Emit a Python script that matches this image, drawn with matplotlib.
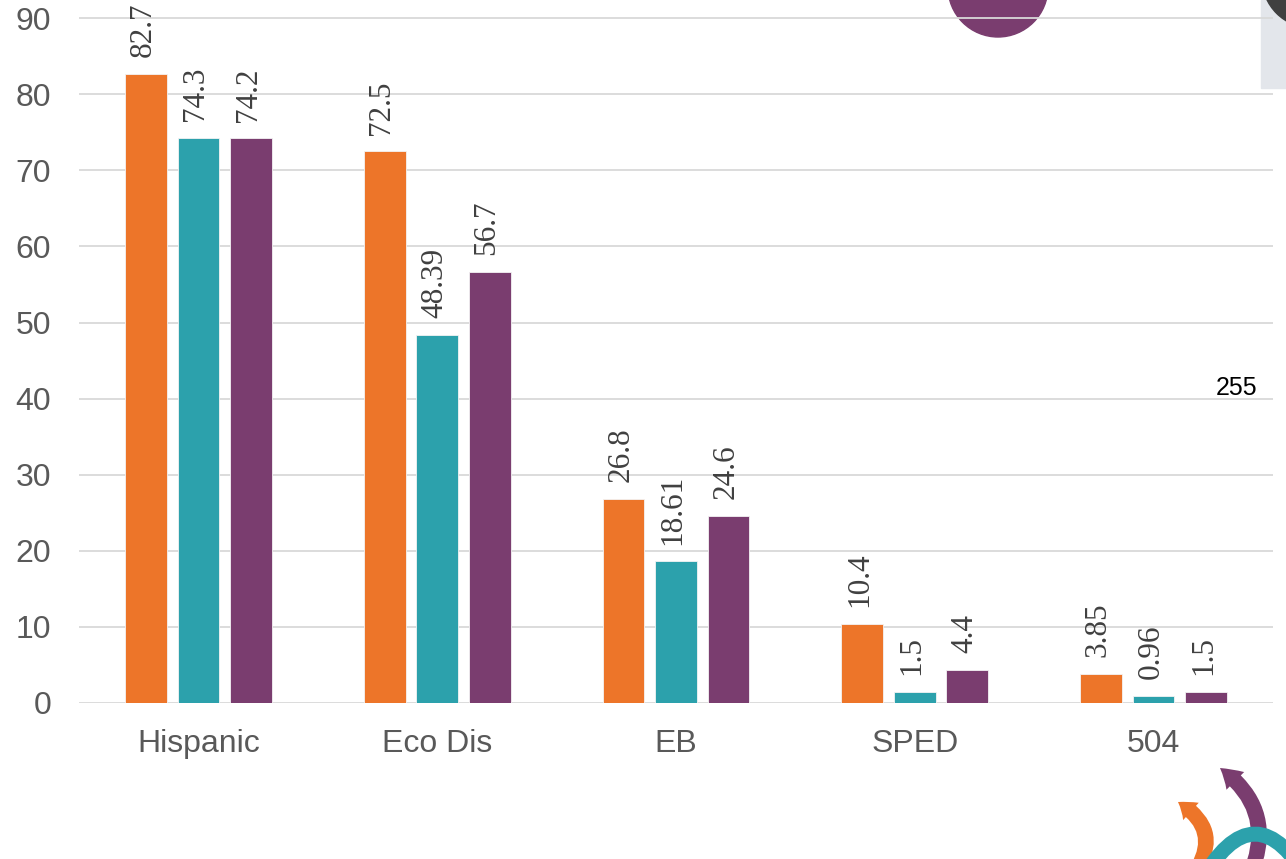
import matplotlib.pyplot as plt
import numpy as np
from matplotlib.patches import Ellipse, Rectangle, FancyArrowPatch

categories = ["Hispanic", "Eco Dis", "EB", "SPED", "504"]
series_a = [82.7, 72.5, 26.8, 10.4, 3.85]
series_b = [74.3, 48.39, 18.61, 1.5, 0.96]
series_c = [74.2, 56.7, 24.6, 4.4, 1.5]
colors = ["#ED7529", "#2CA1AC", "#7A3D6F"]
yticks = list(range(0, 100, 10))

W, H = 1286, 859


def fpos(x, y):
    # pixel position (top-left origin) -> figure fraction
    return (x / W, 1 - y / H)


fig = plt.figure(figsize=(W / 100, H / 100), dpi=100)
ax = fig.add_axes([79 / W, 1 - 703 / H, (1273 - 79) / W, 703 / H])
ax.set_facecolor("none")

x = np.arange(len(categories))
offsets = [-0.22, 0.0, 0.22]
width = 0.175

for vals, off, col in zip([series_a, series_b, series_c], offsets, colors):
    bars = ax.bar(x + off, vals, width, color=col, edgecolor="#F3F3F3",
                  linewidth=0.6, zorder=2)
    for b, v in zip(bars, vals):
        ax.annotate(str(v), (b.get_x() + b.get_width() / 2, v),
                    xytext=(-2, 12), textcoords="offset points",
                    rotation=90, ha="center", va="bottom",
                    family="Liberation Serif", fontsize=22.5, color="#404040",
                    annotation_clip=False)

ax.set_xlim(-0.5, len(categories) - 0.5)
ax.set_ylim(0, 703 / 7.609)
ax.set_yticks(yticks)
ax.set_xticks(x)
ax.set_xticklabels(categories)
ax.tick_params(axis="both", length=0, labelsize=23, labelcolor="#595959",
               labelfontfamily="Liberation Sans")
ax.tick_params(axis="y", pad=20)
ax.tick_params(axis="x", pad=18.5)
ax.grid(axis="y", color="#D9D9D9", linewidth=1.3, zorder=1)
ax.set_axisbelow(True)
for s in ax.spines.values():
    s.set_visible(False)

# decorative shapes around the chart
fig.patches.append(Ellipse(fpos(998, -13), 100 / W, 100 / H,
                           color="#7A3D6F", transform=fig.transFigure, zorder=-1))
fig.patches.append(Rectangle(fpos(1261, 88), 25 / W, 88 / H,
                             color="#E3E6EB", transform=fig.transFigure, zorder=-2))
fig.patches.append(Ellipse(fpos(1312, -22), 100 / W, 100 / H,
                           color="#404040", transform=fig.transFigure, zorder=-1))
fig.text(*fpos(1237, 388), "255", ha="center", va="center", fontsize=18,
         color="black", family="Liberation Sans")

# logo arrows in the corner
fig.patches.append(FancyArrowPatch(fpos(1193, 875), fpos(1178, 802),
                                   connectionstyle="arc3,rad=0.54",
                                   arrowstyle="simple,tail_width=0.68,head_width=1.05,head_length=0.72",
                                   mutation_scale=16, color="#ED7529", lw=0,
                                   shrinkA=0, shrinkB=0,
                                   transform=fig.transFigure))
fig.patches.append(FancyArrowPatch(fpos(1250, 875), fpos(1220, 768),
                                   connectionstyle="arc3,rad=0.40",
                                   arrowstyle="simple,tail_width=0.62,head_width=1.0,head_length=0.8",
                                   mutation_scale=18, color="#7A3D6F", lw=0,
                                   shrinkA=0, shrinkB=0,
                                   transform=fig.transFigure))
fig.patches.append(FancyArrowPatch(fpos(1199, 885), fpos(1311, 885),
                                   connectionstyle="arc3,rad=-0.91",
                                   arrowstyle="-", lw=10.8, color="#2CA1AC",
                                   capstyle="butt", shrinkA=0, shrinkB=0,
                                   transform=fig.transFigure))

fig.savefig("out.png", dpi=100)
